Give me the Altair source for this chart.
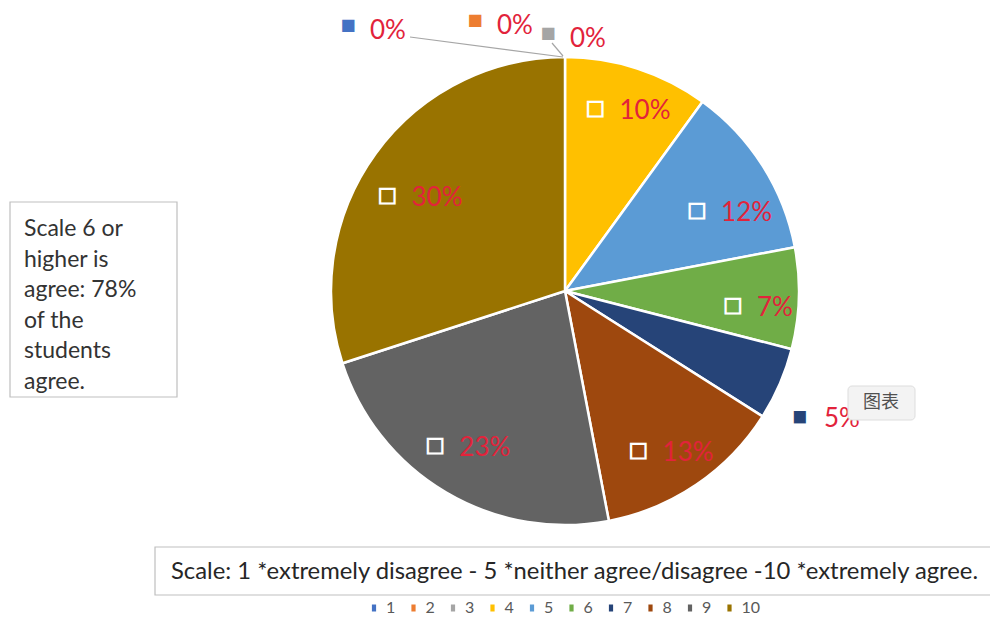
import altair as alt
import pandas as pd

# ---- data ----
categories = ["1", "2", "3", "4", "5", "6", "7", "8", "9", "10"]
shares = [0, 0, 0, 10, 12, 7, 5, 13, 23, 30]
colors = ["#4472C4", "#ED7D31", "#A5A5A5", "#FFC000", "#5B9BD5",
          "#70AD47", "#264478", "#9E480E", "#636363", "#997300"]
note_lines = ["Scale 6 or", "higher is", "agree: 78%", "of the", "students", "agree."]
scale_note = "Scale: 1 *extremely disagree - 5 *neither agree/disagree -10 *extremely agree."

df = pd.DataFrame({
    "cat": categories,
    "share": shares,
    "order": list(range(len(categories))),
    "hex": colors,
    "label": [f"{v}%" for v in shares],
})

# ---- layout / style ----
W, H = 990, 623
CX, CY, R = 565, 291, 234
RED = "#E2233B"
FONT = "Lato"

# label placement: (radius from centre, nudge dx, nudge dy) of the key square
label_place = {
    "1": (250, -217, -16),
    "2": (250, -90, -21),
    "3": (250, -17, -8),
    "4": (186, -27, -6),
    "5": (186, -25, 19),
    "6": (186, -18, 8),
    "7": (280, -22, 14),
    "8": (186, -31, 5),
    "9": (186, -35, -6),
    "10": (186, -27, 13),
}

theta_scale = alt.Scale(domain=[0, 100], range=[0, 6.283185307179586])

base = (
    alt.Chart(df)
    .transform_window(cum="sum(share)", sort=[alt.SortField("order")], frame=[None, 0])
    .transform_calculate(start="datum.cum - datum.share", mid="datum.cum - datum.share / 2")
)

pie = base.mark_arc(stroke="white", strokeWidth=2.5).encode(
    theta=alt.Theta("start:Q", scale=theta_scale),
    theta2="cum:Q",
    radius=alt.value(R),
    x=alt.value(CX),
    y=alt.value(CY),
    color=alt.Color(
        "cat:N",
        scale=alt.Scale(domain=categories, range=colors),
        sort=categories,
        legend=alt.Legend(
            orient="none", legendX=366, legendY=600, direction="horizontal",
            title=None, symbolType="M-0.6,-1H0.6V1H-0.6Z", symbolSize=49, symbolStrokeWidth=0,
            labelFontSize=16, labelFont=FONT, labelColor="#595959",
            columnPadding=9.5, labelOffset=4, gridAlign="none",
        ),
    ),
    order=alt.Order("order:Q"),
)

layers = [pie]
for c in categories:
    r, ndx, ndy = label_place[c]
    src = base.transform_filter(f"datum.cat == '{c}'")
    zero = c in ("1", "2", "3")
    sq_kw = dict(fontSize=16) if zero else dict(fontSize=19, stroke="white", strokeWidth=2.2)
    layers.append(src.mark_text(text="■", font="DejaVu Sans", dx=ndx, dy=ndy,
                                baseline="middle", align="center", **sq_kw).encode(
        theta=alt.Theta("mid:Q", scale=theta_scale),
        radius=alt.value(r), x=alt.value(CX), y=alt.value(CY),
        color=alt.Color("hex:N", scale=None)))
    layers.append(src.mark_text(font=FONT, fontSize=26, color=RED,
                                dx=ndx + (22 if zero else 24), dy=ndy + (6 if zero else 3),
                                baseline="middle", align="left").encode(
        theta=alt.Theta("mid:Q", scale=theta_scale),
        radius=alt.value(r), x=alt.value(CX), y=alt.value(CY),
        text="label:N"))

# leader lines
lines = alt.Chart(pd.DataFrame({"x": [410, 552], "y": [37, 43], "x2": [563, 563], "y2": [57, 56]})).mark_rule(
    color="#A6A6A6", strokeWidth=1.2).encode(
    x=alt.X("x:Q", scale=None), y=alt.Y("y:Q", scale=None),
    x2="x2:Q", y2="y2:Q")
layers.append(lines)

one = pd.DataFrame({"k": [0]})

# left note box
layers.append(alt.Chart(one).mark_rect(fill="white", stroke="#BFBFBF", strokeWidth=1.2).encode(
    x=alt.value(10), x2=alt.value(177), y=alt.value(202), y2=alt.value(397)))
layers.append(alt.Chart(one).mark_text(text=note_lines, font=FONT, fontSize=23, color="#333333",
                                       align="left", baseline="alphabetic", lineHeight=30.5).encode(
    x=alt.value(24), y=alt.value(236)))

# bottom scale box
layers.append(alt.Chart(one).mark_rect(fill="white", stroke="#BFBFBF", strokeWidth=1.2).encode(
    x=alt.value(155), x2=alt.value(1000), y=alt.value(547), y2=alt.value(595)))
layers.append(alt.Chart(one).mark_text(text=scale_note, font=FONT, fontSize=23.8, color="#262626",
                                       align="left", baseline="middle").encode(
    x=alt.value(171), y=alt.value(572)))

# chart-tool tooltip box
layers.append(alt.Chart(one).mark_rect(fill="#F3F3F3", stroke="#DDDDDD", cornerRadius=4).encode(
    x=alt.value(848), x2=alt.value(915), y=alt.value(386), y2=alt.value(420)))
layers.append(alt.Chart(one).mark_text(text="图表", font="Noto Sans CJK SC", fontSize=18,
                                       color="#505050", align="center", baseline="middle").encode(
    x=alt.value(881), y=alt.value(403)))

chart = alt.layer(*layers).properties(
    width=W, height=H, autosize=alt.AutoSizeParams(type="none"), padding=0,
    background="white",
).configure_view(stroke=None)

chart.save("out.html", embed_options={"renderer": "svg", "actions": False})
